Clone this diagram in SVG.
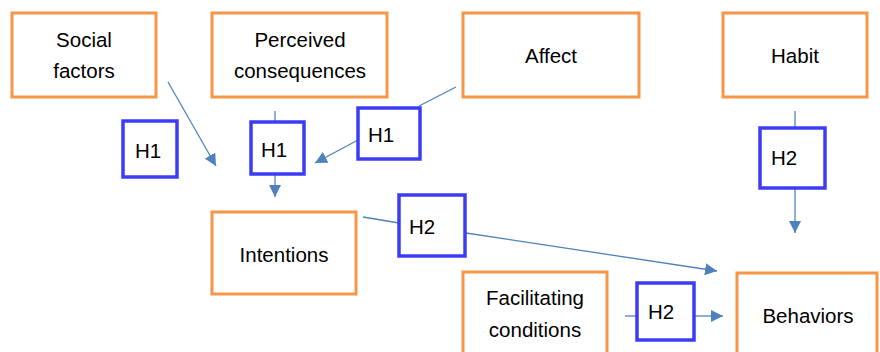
<svg xmlns="http://www.w3.org/2000/svg" width="880" height="352" viewBox="0 0 880 352">
<style>
.n{fill:#fff;stroke:#f79646;stroke-width:3}
.h{fill:#fff;stroke:#3c3cf5;stroke-width:3.5}
text{font-family:"Liberation Sans",Arial,sans-serif;font-size:20.5px;fill:#000}
.c{text-anchor:middle}
.e{fill:none;stroke:#4f81bd;stroke-width:1.3}
</style>
<defs>
<marker id="a" viewBox="0 0 10 10" refX="10" refY="5" markerWidth="12" markerHeight="12" markerUnits="userSpaceOnUse" orient="auto">
<path d="M0,0 L10,5 L0,10 z" fill="#4f81bd"/>
</marker>
</defs>
<rect width="880" height="352" fill="#fff"/>
<g id="connectors">
<line class="e" x1="168" y1="82" x2="216" y2="166" marker-end="url(#a)"/>
<line class="e" x1="275" y1="111" x2="275" y2="122"/>
<line class="e" x1="275" y1="174" x2="275" y2="197" marker-end="url(#a)"/>
<line class="e" x1="456" y1="87" x2="419" y2="106"/>
<line class="e" x1="358" y1="140" x2="315" y2="163" marker-end="url(#a)"/>
<line class="e" x1="795" y1="111" x2="795" y2="128"/>
<line class="e" x1="795" y1="188" x2="795" y2="233" marker-end="url(#a)"/>
<line class="e" x1="363" y1="217" x2="399" y2="223"/>
<line class="e" x1="466" y1="233" x2="717" y2="271" marker-end="url(#a)"/>
<line class="e" x1="625" y1="316" x2="637" y2="316"/>
<line class="e" x1="694" y1="316" x2="723" y2="316" marker-end="url(#a)"/>
</g>
<g id="social"><rect class="n" x="12" y="13" width="144" height="84"/><text class="c" x="84" y="47">Social</text><text class="c" x="84" y="78">factors</text></g>
<g id="perceived"><rect class="n" x="212" y="13" width="175" height="84"/><text class="c" x="300" y="47">Perceived</text><text class="c" x="300" y="78">consequences</text></g>
<g id="affect"><rect class="n" x="463" y="13" width="176" height="84"/><text class="c" x="551" y="63">Affect</text></g>
<g id="habit"><rect class="n" x="723" y="13" width="144" height="84"/><text class="c" x="795" y="63">Habit</text></g>
<g id="h1a"><rect class="h" x="123" y="121" width="54" height="56"/><text x="135" y="158">H1</text></g>
<g id="h1b"><rect class="h" x="251" y="122" width="53" height="52"/><text x="261" y="157">H1</text></g>
<g id="h1c"><rect class="h" x="358" y="108" width="62" height="51"/><text x="368" y="142">H1</text></g>
<g id="h2a"><rect class="h" x="760" y="128" width="65" height="60"/><text x="771" y="165">H2</text></g>
<g id="intentions"><rect class="n" x="212" y="212" width="144" height="82"/><text class="c" x="284" y="262">Intentions</text></g>
<g id="h2b"><rect class="h" x="399" y="195" width="66" height="61"/><text x="409" y="234">H2</text></g>
<g id="facilitating"><rect class="n" x="463" y="272" width="144" height="90"/><text class="c" x="535" y="305">Facilitating</text><text class="c" x="535" y="337">conditions</text></g>
<g id="h2c"><rect class="h" x="637" y="283" width="57" height="57"/><text x="648" y="319">H2</text></g>
<g id="behaviors"><rect class="n" x="737" y="273" width="140" height="90"/><text class="c" x="808" y="323">Behaviors</text></g>
</svg>
